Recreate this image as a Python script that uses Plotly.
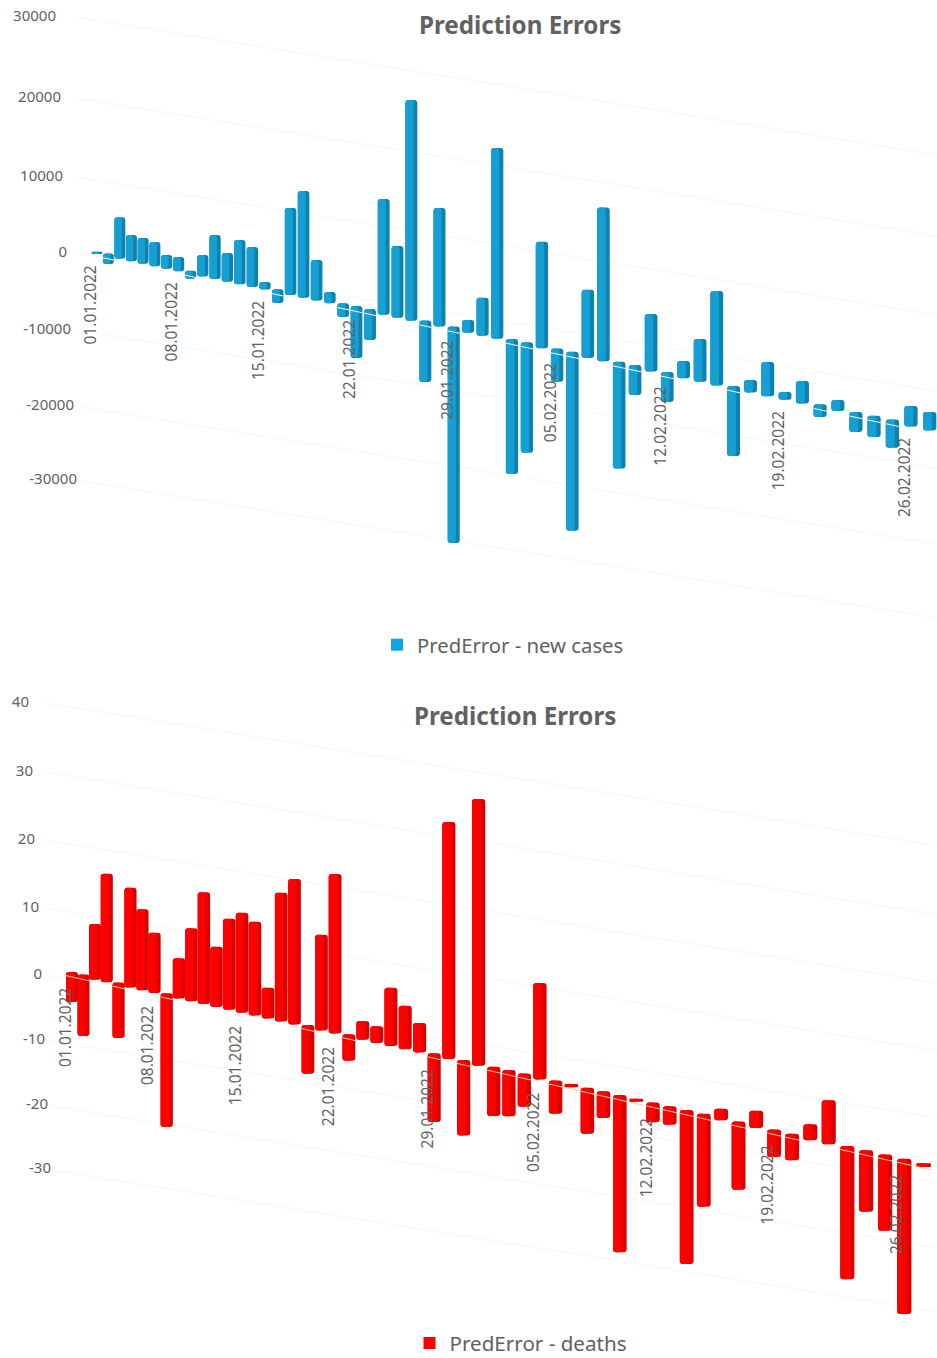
import numpy as np
import plotly.graph_objects as go

# ---------- data ----------
days = [f"{d:02d}.01.2022" for d in range(1, 32)] + [f"{d:02d}.02.2022" for d in range(1, 28)]
new_cases = [300, -1000, 5400, 3400, 3350, 3150, 1800, 1850, -650, 2780, 5710, 3710, 5750, 5180, 990, -1390,
             11300, 13870, 5260, 1480, -1400, -6360, -3650, 15040, 9310, 28660, -7580, 15400, -27700, 1660,
             4920, 24800, -17130, -13990, 13840, -3920, -22840, 8880, 19970, -13480, -3490, 7470, -3520, 2260,
             5570, 12260, -8710, 1620, 4440, 1030, 2920, -1260, 1440, -2220, -2380, -3270, 2680, 2400]
deaths = [-4.1, -8.8, 8.3, 16.2, -7.9, 14.9, 12.1, 9.0, -19.6, 6.0, 10.9, 16.7, 9.0, 13.6, 14.9, 14.0,
          4.6, 19.2, 21.7, -6.9, 14.3, 23.8, -3.6, 2.8, 2.5, 8.7, 6.5, 4.4, -9.9, 35.4,
          -10.9, 39.8, -7.0, -6.5, -4.6, 14.4, -4.6, -0.1, -6.5, -3.6, -23.1, -0.1, -2.6, -2.4,
          -22.6, -13.5, 1.7, -9.8, 2.6, -3.7, -3.6, 2.4, 6.6, -19.5, -8.8, -11.0, -22.8, -0.2]
label_days = ["01.01.2022", "08.01.2022", "15.01.2022", "22.01.2022", "29.01.2022",
              "05.02.2022", "12.02.2022", "19.02.2022", "26.02.2022"]
ticks_cases = [30000, 20000, 10000, 0, -10000, -20000, -30000]
ticks_deaths = [40, 30, 20, 10, 0, -10, -20, -30]

GREY = "#616161"
FONT = "Noto Sans"


def panel(fig, values, ticks, axis, cfg):
    """Oblique 3-D look: each day sits on a receding floor line."""
    xa, ya = ("x", "y") if axis == 1 else (f"x{axis}", f"y{axis}")
    k = cfg["k"]
    i = np.arange(len(values))
    depth = i / (1 - cfg["d"] * i)
    xpos = cfg["x0"] + cfg["dx"] * depth
    floor = -(cfg["dy"] * depth) / k + cfg["floor0"] / k
    w = cfg["w0"] + cfg["w1"] * i
    v = np.array(values, dtype=float)
    up = cfg["cap"] / k
    start = floor + np.where(v < 0, up, 0)
    span = v - np.where(v < 0, up, 0)

    # faint gridlines, under the bars
    for ty in cfg["tick_y"]:
        x1 = 937
        fig.add_shape(type="line", layer="below", xref=xa, yref=ya, x0=cfg["grid_x"], x1=x1, y0=ty,
                      y1=ty - (x1 - cfg["grid_x"]) * cfg["grid_slope"] / k,
                      line=dict(color="#fafafa", width=2))
    # cylinder body: dark side, lighter front
    fig.add_trace(go.Bar(x=xpos, y=span, base=start, width=w, offset=-w / 2,
                         marker=dict(color=cfg["dark"], cornerradius=3, line_width=0),
                         showlegend=False, xaxis=xa, yaxis=ya, hoverinfo="skip"))
    fig.add_trace(go.Bar(x=xpos, y=span, base=start, width=w * 0.68, offset=-w / 2,
                         marker=dict(color=cfg["main"], cornerradius=3, line_width=0),
                         name=cfg["name"], showlegend=False, text=days, xaxis=xa, yaxis=ya,
                         textposition="none"))
    # square legend key
    fig.add_trace(go.Bar(x=[None], y=[None], marker=dict(color=cfg["key"], line_width=0), name=cfg["name"],
                         showlegend=True, legend=cfg["legend"], xaxis=xa, yaxis=ya, hoverinfo="skip"))
    # floor line crossing the downward bars
    lx, ly = [], []
    for xp, wi, fl, val in zip(xpos, w, floor, v):
        if val < 0:
            lx += [xp - wi / 2, xp + wi / 2, None]
            low = fl - cfg["line_off"] / k
            ly += [low + wi / 2 * cfg["dy"] / cfg["dx"] / k, low - wi / 2 * cfg["dy"] / cfg["dx"] / k, None]
    fig.add_trace(go.Scatter(x=lx, y=ly, mode="lines", line=dict(color=cfg["line"], width=1), showlegend=False,
                             hoverinfo="skip", xaxis=xa, yaxis=ya))
    # slanted value labels
    fig.add_trace(go.Scatter(x=cfg["tick_x"], y=cfg["tick_y"], mode="text", text=[str(t) for t in ticks],
                             textposition="middle left", textfont=dict(family=FONT, size=15, color=GREY),
                             showlegend=False, hoverinfo="skip", xaxis=xa, yaxis=ya, cliponaxis=False))
    # date labels
    for lab in label_days:
        n = days.index(lab)
        fig.add_annotation(x=xpos[n] - 7.5, y=floor[n] - cfg["label_off"] / k, xref=xa, yref=ya, text=lab, textangle=-90,
                           showarrow=False, font=dict(family=FONT, size=15.5, color=GREY))
    fig.add_annotation(x=cfg["title_x"], y=cfg["title_y"], xref=xa, yref=ya, text="<b>Prediction Errors</b>",
                       showarrow=False, font=dict(family=FONT, size=24.2, color=GREY))


fig = go.Figure()
# canvas runs a little past the window so the lower legend needs no extra margin
H = 1380
cases_cfg = dict(k=0.0077, d=0.003925, x0=97, dx=11.34, dy=2.404, floor0=-1.0, cap=3, w0=10.8, w1=0.045,
                 dark="#0d82ae", main="#169fd3", key="#0ea5e0", line="#f2f7fa", line_off=2.5, label_off=51,
                 name="PredError - new cases", legend="legend",
                 tick_x=[56, 61, 63, 67, 71, 74, 77],
                 tick_y=[30650, 20130, 9870, 0, -10000, -19870, -29480],
                 grid_x=75, grid_slope=0.16, title_x=520, title_y=(253 - 24) / 0.0077)
deaths_cfg = dict(k=6.7, d=0.0041, x0=72, dx=11.45, dy=2.57, floor0=0.5, cap=2.5, w0=12, w1=0.04,
                  dark="#dd0000", main="#ff0000", key="#ff0000", line="#f6cf98", line_off=2.5, label_off=53,
                  name="PredError - deaths", legend="legend2",
                  tick_x=[29, 33, 35, 39, 42, 45, 48, 51],
                  tick_y=[40.6, 30.3, 20.1, 10.0, 0, -9.7, -19.4, -28.96],
                  grid_x=45, grid_slope=0.16, title_x=515, title_y=(975 - 716) / 6.7)

panel(fig, new_cases, ticks_cases, 1, cases_cfg)
panel(fig, deaths, ticks_deaths, 2, deaths_cfg)

top_px, bot_px = 660, 665
ax_off = dict(visible=False, fixedrange=True)
fig.update_layout(
    width=937, height=H, margin=dict(l=0, r=0, t=0, b=0), paper_bgcolor="white", plot_bgcolor="white",
    barmode="overlay",
    xaxis=dict(range=[0, 937], domain=[0, 1], anchor="y", **ax_off),
    yaxis=dict(range=[(253 - top_px) / 0.0077, 253 / 0.0077], domain=[1 - top_px / H, 1], anchor="x", **ax_off),
    xaxis2=dict(range=[0, 937], domain=[0, 1], anchor="y2", **ax_off),
    yaxis2=dict(range=[(975 - H) / 6.7, (975 - bot_px) / 6.7], domain=[0, 1 - bot_px / H], anchor="x2", **ax_off),
    legend=dict(x=503 / 937, y=1 - 645 / H, xanchor="center", yanchor="middle",
                font=dict(family=FONT, size=20.3, color=GREY), bgcolor="rgba(0,0,0,0)"),
    legend2=dict(x=521 / 937, y=1 - 1343 / H, xanchor="center", yanchor="middle",
                 font=dict(family=FONT, size=20.6, color=GREY), bgcolor="rgba(0,0,0,0)"),
)
fig.write_html("out.html", config=dict(displayModeBar=False),
               post_script="document.body.style.margin='0';document.body.style.overflow='hidden';")
